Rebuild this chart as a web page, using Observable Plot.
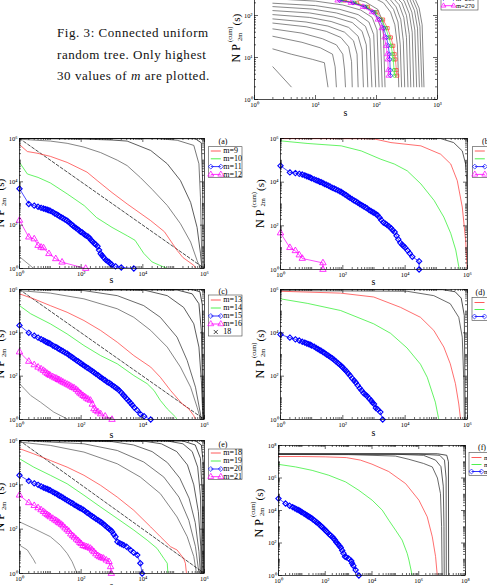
<!DOCTYPE html>
<html><head><meta charset="utf-8">
<script src="https://cdn.jsdelivr.net/npm/d3@7"></script>
<script src="https://cdn.jsdelivr.net/npm/@observablehq/plot@0.6"></script>
<style>
html,body{margin:0;padding:0;background:#fff;}
#page{position:relative;width:487px;height:585px;overflow:hidden;background:#fff;font-family:"Liberation Serif",serif;}
.panel{position:absolute;}
#caption{position:absolute;left:57px;top:22px;font-size:13px;letter-spacing:0.55px;line-height:21.7px;color:#111;white-space:nowrap;}
</style></head><body><div id="page"><div id="caption">Fig. 3: Connected uniform<br>random tree. Only highest<br>30 values of <i>m</i> are plotted.</div></div>
<script>
// ---------- DATA: top panel (connected uniform random tree) ----------
const TOP_gray = [
 [[2,6],[4,2]],
 [[2,16],[4,12],[9,9],[14,7.5],[16,2]],
 [[2,32],[6,23],[12,17],[19,12],[21,6],[22,2]],
 [[2,48],[6,38],[13,28],[22,20],[28,12],[30,5],[31,2]],
 [[2,66],[7,54],[15,42],[26,30],[35,18],[39,8],[40,2]],
 [[2,83],[7,70],[16,56],[30,40],[42,25],[48,12],[50,2]],
 [[2,105],[8,90],[18,72],[35,52],[50,32],[58,15],[61,2]],
 [[2,131],[8,115],[20,92],[40,68],[58,42],[68,20],[72,2]],
 [[2,163],[9,142],[22,115],[45,85],[66,55],[78,28],[84,2]],
 [[2,196],[10,172],[25,140],[50,105],[75,70],[90,35],[97,2]],
 [[2,251],[10,220],[28,178],[55,135],[85,90],[102,45],[110,2]],
 [[2,316],[11,275],[30,225],[60,170],[95,115],[115,55],[124,2]],
 [[2,400],[12,345],[32,280],[66,210],[105,140],[128,70],[138,2]],
 [[2,520],[15,460],[40,380],[80,290],[130,200],[170,120],[200,60],[220,20],[232,2]],
 [[2,580],[15,520],[45,430],[90,330],[145,230],[190,140],[225,70],[245,20],[258,2]],
 [[2,640],[16,580],[50,480],[100,370],[160,260],[210,160],[250,80],[275,25],[290,2]],
 [[2,700],[17,640],[55,530],[110,410],[175,290],[235,180],[280,90],[310,30],[328,2]],
 [[2,760],[18,700],[60,580],[120,450],[190,320],[260,200],[310,100],[345,35],[365,2]],
 [[2,820],[19,760],[65,630],[130,490],[210,350],[285,220],[345,110],[385,40],[408,2]],
 [[2,880],[20,820],[70,680],[140,530],[230,380],[315,240],[380,120],[425,45],[455,2]],
 [[2,940],[21,880],[75,730],[150,570],[250,410],[345,260],[420,130],[470,50],[505,2]],
 [[2,990],[22,940],[80,780],[160,610],[270,440],[375,280],[460,140],[515,55],[555,2]],
 [[2,1000],[25,990],[90,830],[180,650],[290,470],[405,300],[500,150],[560,60],[600,2]]
];
const TOP_m267 = [[2,470],[10,410],[20,330],[30,228],[48,200],[72,160],[100,120],[128,80],[152,50],[172,30],[188,19],[198,12],[204,9],[212,5],[218,3.7]];
const TOP_m268 = [[2,460],[10,400],[19,320],[27,228],[44,200],[68,160],[95,120],[120,80],[142,50],[160,30],[174,19],[183,12],[188,9],[194,5],[198,3.7]];
const TOP_m269 = [[2,450],[9,390],[18,310],[25,228],[41,200],[64,160],[89,120],[112,80],[131,50],[146,30],[156,19],[162,12],[165,9],[168,5],[170,3.7]];
const TOP_m270 = [[2,440],[9,380],[17,300],[23,228],[38,200],[60,160],[84,120],[105,80],[122,50],[135,30],[144,19],[150,12],[153,9],[156,5],[158,3.7]];

// ---------- DATA: panel (a) ----------
const A_m9 = [[1,5.2e5],[1.8,2.5e5],[3.7,2.1e5],[10,1.5e5],[35,7.9e4],[155,2.8e4],[330,1.15e4],[1000,3.2e3],[3100,955],[1.8e4,162],[5e4,50],[1.3e5,6.8],[2e5,3.2],[4.5e5,1.4],[5.2e5,1]];
const A_m10 = [[1,7.9e4],[1.8,2.3e4],[4,1.6e4],[10,8.9e3],[35,2.8e3],[126,794],[316,224],[1000,79],[3160,32],[5600,20],[1.07e4,5],[2e4,2],[4e4,1.3],[6.3e4,1]];
const A_m11 = [[1,4.8e3],[2,955],[3,794],[4,708],[5,631],[6,589],[7,550],[8,513],[9,490],[10,457],[12,398],[14,347],[16,316],[18,282],[20,257],[23,229],[26,209],[30,182],[34,166],[38,145],[43,126],[48,110],[54,95],[60,83],[68,74],[76,66],[85,58],[95,50],[105,48],[120,40],[135,35],[150,32],[170,29],[190,25],[210,20],[240,17],[270,14],[300,12.6],[340,10.7],[380,7.1],[430,4.8],[480,4],[540,3.2],[630,2.5],[710,2.2],[800,2],[900,1.66],[1000,1.5],[1300,1.26],[2000,1.12],[5100,1]];
const A_m12 = [[1,166],[2,28],[3,23],[4,11.5],[5,9.5],[6,8.9],[9,4.8],[15,2.8],[24,1.95],[140,1]];
const A_gray = [
 [[1,3.5],[2.9,1]],
 [[1,9.3e5],[10,7.6e5],[35,6e5],[123,4e5],[427,2.24e5],[1480,1e5],[3100,5.6e4],[8300,1.58e4],[2e4,4.5e3],[6.2e4,813],[1.66e5,117],[3.55e5,16.6],[5.75e5,2.34],[7.4e5,1]],
 [[1,1e6],[100,9.5e5],[1000,8.5e5],[3100,7.6e5],[1.8e4,2.8e5],[6.2e4,6.8e4],[1.66e5,1.15e4],[3.55e5,1.12e3],[5.75e5,79],[7.4e5,5],[8.3e5,1]],
 [[1,1e6],[3.2e4,9.8e5],[1.3e5,8.3e5],[4.5e5,4.8e5],[6.6e5,6.8e4],[7.4e5,1.95e3],[8.3e5,1]],
 [[1,1e6],[5e5,9.8e5],[7.9e5,6.3e5],[8.7e5,1e4],[9.1e5,1]]
];
const DIAG = [[1,1e6],[1e6,1]];

// ---------- DATA: panel (b) ----------
const B_red = [[1,9.9e5],[500,9.8e5],[1000,9.6e5],[3500,6.5e5],[3.2e4,4.6e5],[1.38e5,1.9e5],[2.9e5,6.8e4],[4.7e5,1.17e4],[6.8e5,724],[8.7e5,22],[9.8e5,1]];
const B_green = [[1,7.8e5],[7.6,5.9e5],[89,4.6e5],[390,2.7e5],[1660,1.12e5],[4470,6.8e4],[1.17e4,3.3e4],[3.2e4,8.3e3],[8.5e4,1.45e3],[1.74e5,251],[2.9e5,45],[4.2e5,7.8],[5.25e5,1.35],[5.5e5,1]];
const B_blue = [[1,5.6e4],[2,2.8e4],[3,2.6e4],[4,2.4e4],[5,2.24e4],[6,2.04e4],[7,1.86e4],[8,1.74e4],[9,1.62e4],[10,1.51e4],[12,1.35e4],[14,1.23e4],[16,1.15e4],[18,1.05e4],[20,1e4],[23,9.1e3],[26,8.3e3],[30,7.6e3],[35,6.9e3],[40,6.2e3],[46,5.5e3],[53,5.1e3],[60,4.7e3],[70,4.2e3],[80,3.8e3],[90,3.55e3],[100,3.16e3],[115,2.8e3],[130,2.5e3],[150,2.14e3],[170,1.9e3],[200,1.66e3],[230,1.45e3],[260,1.32e3],[300,1.15e3],[350,1e3],[400,890],[460,794],[530,708],[600,630],[700,525],[800,479],[900,427],[1000,398],[1150,347],[1300,309],[1500,240],[1700,186],[2000,141],[2300,126],[2600,112],[3000,95],[3500,79],[4000,63],[4600,52],[5300,35],[6000,24],[7000,16.6],[8000,13.5],[9000,11.7],[1e4,10],[1.2e4,7.4],[1.4e4,5.5],[1.7e4,3.8],[2.8e4,2.4],[2.8e4,1]];
const B_mag = [[1,47],[2,10],[3,7.2],[4,4.6],[5,3.2],[23,2],[23,1]];
const B_gray = [
 [[1,1e6],[1.38e5,9.9e5],[3.6e5,6.5e5],[6.8e5,2.7e5],[8.7e5,6.8e4],[9.8e5,5.9e3],[1e6,1]]
];

// ---------- DATA: panel (c) ----------
const C_m13 = [[1,6.3e5],[2.9,3.7e5],[10,1.8e5],[35,8.9e4],[123,3.7e4],[427,1.29e4],[1480,3.7e3],[5100,891],[1.8e4,263],[3.7e4,89],[7.9e4,22],[1.9e5,5.2],[3.1e5,3.1],[4.5e5,1.5],[5.1e5,1]];
const C_m14 = [[1,1.8e5],[2.3,7.6e4],[10,2.6e4],[35,8.9e3],[123,2.6e3],[427,891],[1480,372],[5100,107],[1.38e4,45],[2.3e4,22],[3.7e4,7.6],[6.2e4,3.1],[1.15e5,1.3],[1.29e5,1]];
const C_m15 = [[1,2.2e4],[2,1e4],[3,7.4e3],[4,6e3],[5,5.1e3],[6,4.5e3],[7,4e3],[8,3.6e3],[9,3.4e3],[10,3.1e3],[12,2.6e3],[14,2.3e3],[16,2.14e3],[18,1.86e3],[20,1.74e3],[23,1.55e3],[26,1.41e3],[30,1.23e3],[35,1.1e3],[40,955],[46,832],[53,724],[60,631],[70,537],[80,479],[90,427],[100,380],[115,331],[130,295],[150,257],[170,229],[200,195],[230,170],[260,151],[300,129],[350,112],[400,95],[460,83],[530,72],[600,65],[700,54],[800,49],[900,44],[1000,39],[1150,34],[1300,30],[1500,26],[1700,22],[2000,17.4],[2300,13.8],[2600,11.5],[3000,9.1],[3500,7.2],[4000,5.8],[4600,4.6],[5300,3.6],[6500,2.7],[8300,1.8],[1.1e4,1.41],[1.8e4,1]];
const C_m16 = [[1,1300],[2,479],[3,331],[4,257],[5,214],[6,182],[7,151],[8,132],[9,117],[10,107],[12,93],[14,83],[16,78],[18,69],[20,65],[23,58],[26,52],[30,47],[35,42],[40,38],[46,34],[53,30],[60,28],[70,24],[80,20],[90,16.6],[100,14.8],[115,12.6],[130,11.2],[150,9.5],[170,8.5],[200,7.6],[230,5],[260,3.1],[300,2.6],[350,2.24],[430,1.8],[600,1.41],[1000,1]];
const C_gray = [
 [[1,45],[2.3,12.9],[4.8,6.3],[12.9,2.2],[35,1.07]],
 [[1,8.9e5],[10,6.8e5],[123,3.7e5],[1480,1.29e5],[5100,5.2e4],[1.8e4,1.29e4],[6.2e4,2.2e3],[1.66e5,263],[3.55e5,31],[5.75e5,3.7],[7.4e5,1.07]],
 [[1,1e6],[123,8.9e5],[1480,5.2e5],[1.07e4,1.8e5],[3.7e4,5.2e4],[1.29e5,6.3e3],[2.75e5,525],[5.1e5,31],[7.4e5,1.8],[7.9e5,1]],
 [[1,1e6],[1.07e4,9.5e5],[6.2e4,5.2e5],[2.1e5,1.5e5],[4.5e5,2.6e4],[6.6e5,2.2e3],[7.9e5,63],[8.9e5,1]],
 [[1,1e6],[1.29e5,9.5e5],[4e5,6.3e5],[6.6e5,2.2e5],[7.9e5,1.26e4],[9.1e5,1]],
 [[1,1e6],[4e5,9.9e5],[7.1e5,7.9e5],[8.5e5,2e5],[9.3e5,1]]
];

// ---------- DATA: panel (d) ----------
const D_red = [[1,8.3e5],[85,6.8e5],[980,4.5e5],[7.1e3,1.5e5],[3.1e4,5.2e4],[8.3e4,1.29e4],[1.74e5,2.2e3],[2.8e5,372],[4.1e5,45],[5.25e5,5.2],[6e5,1]];
const D_green = [[1,3.7e5],[7.2,2.3e5],[85,1.07e5],[980,2.6e4],[3.4e3,9.5e3],[1.15e4,2e3],[3.1e4,355],[5.1e4,89],[9.3e4,6.3],[1.2e5,1]];
const D_blue = [[1,8.3e3],[2,6e3],[3,5e3],[4,4.4e3],[5,3.9e3],[6,3.55e3],[7,3.2e3],[8,3e3],[9,2.8e3],[10,2.6e3],[12,2.3e3],[14,2e3],[16,1.8e3],[18,1.6e3],[20,1.5e3],[23,1.3e3],[26,1.17e3],[30,1e3],[35,871],[40,759],[46,661],[53,562],[60,479],[70,398],[80,339],[90,295],[100,251],[115,204],[130,170],[150,132],[170,107],[200,79],[230,63],[260,51],[300,38],[350,28],[400,22],[460,16.6],[530,14],[600,12],[700,9.3],[800,7.6],[900,6],[1000,5.2],[1150,3.4],[1300,3],[1600,2.2],[1900,1]];
const D_gray = [
 [[1,8.9e5],[1.15e4,8.3e5],[8.3e4,5.2e5],[2.8e5,2.2e5],[5.25e5,5.2e4],[6.8e5,6.3e3],[7.6e5,63],[7.9e5,1]],
 [[1,1e6],[1.58e5,9.8e5],[4e5,7.9e5],[6.3e5,4e5],[7.9e5,6.3e4],[8.5e5,1]]
];

// ---------- DATA: panel (e) ----------
const E_m18 = [[1,4.3e5],[2.9,2.5e5],[10,1.26e5],[35,6.3e4],[123,2.7e4],[427,9.5e3],[1480,2.8e3],[5100,708],[1.8e4,126],[3.7e4,46],[7.9e4,16.2],[1.29e5,11.5],[2.1e5,4.8],[2.4e5,2.9],[2.6e5,1]];
const E_m19 = [[1,1.5e5],[2.9,6.3e4],[10,2.7e4],[35,1.12e4],[123,3.4e3],[427,1e3],[1480,302],[5100,91],[1.38e4,32],[2.9e4,13.5],[4.8e4,4.8],[6.2e4,2.9],[6.5e4,1]];
const E_m20 = [[1,2.7e4],[2,1.5e4],[3,1.17e4],[4,1e4],[5,8.5e3],[6,7.6e3],[7,6.9e3],[8,6.5e3],[9,6e3],[10,5.6e3],[12,4.8e3],[14,4.3e3],[16,3.9e3],[18,3.5e3],[20,3.2e3],[23,2.9e3],[26,2.6e3],[30,2.3e3],[35,2e3],[40,1.8e3],[46,1.6e3],[53,1.45e3],[60,1.26e3],[70,1.12e3],[80,1e3],[90,912],[100,851],[115,759],[130,676],[150,575],[170,513],[200,437],[230,380],[260,339],[300,295],[350,257],[400,229],[460,200],[530,170],[600,145],[700,120],[800,105],[900,91],[1000,79],[1150,58],[1300,45],[1500,27],[1800,23],[2100,21],[2400,19],[3000,16],[4000,11.5],[5000,8.9],[6600,6.8],[8300,2.9],[9500,1]];
const E_m21 = [[1,3.4e3],[2,1.55e3],[3,1.15e3],[4,912],[5,741],[6,617],[7,513],[8,447],[9,398],[10,355],[12,302],[14,257],[16,234],[18,204],[20,186],[23,162],[26,138],[30,112],[35,93],[40,79],[46,60],[53,50],[60,43],[70,35],[80,30],[90,25],[100,22],[115,18],[130,17],[150,15.8],[170,15],[200,13.5],[230,11.2],[260,9.5],[300,7.6],[350,6.3],[400,5.6],[460,5.1],[530,4.8],[650,4],[800,3.4],[900,2],[950,1]];
const E_gray = [
 [[1,214],[2.9,107],[10,46],[21,19],[35,8.1],[51,3.4],[74,1]],
 [[1,19],[1.8,11.5],[2.9,4.1],[3.3,2.9]],
 [[1,8.5e5],[10,6e5],[123,3e5],[1480,8.9e4],[8300,2.24e4],[3.7e4,4e3],[1.29e5,355],[2.75e5,46],[4.5e5,5.8],[5.5e5,1]],
 [[1,1e6],[123,7.1e5],[1480,3.55e5],[1.07e4,1.07e5],[4.8e4,2.24e4],[1.48e5,2.8e3],[3.1e5,251],[5.1e5,16.2],[6.6e5,1]],
 [[1,1e6],[1000,8.9e5],[5e3,6.3e5],[2e4,3.16e5],[6.3e4,1e5],[1.58e5,2e4],[3.16e5,2.5e3],[5e5,200],[6.6e5,10],[7.4e5,1]],
 [[1,1e6],[1e4,9.5e5],[4e4,7.1e5],[1.26e5,3.16e5],[2.8e5,7.9e4],[4.5e5,1e4],[6.3e5,631],[7.6e5,16],[7.9e5,1]],
 [[1,1e6],[6.3e4,9.5e5],[2e5,7.1e5],[4e5,3.16e5],[6e5,6.3e4],[7.4e5,3.16e3],[8.3e5,1]],
 [[1,1e6],[2e5,9.5e5],[5e5,6.3e5],[7.4e5,1.58e5],[8.5e5,3.16e3],[8.9e5,1]],
 [[1,1e6],[5e5,9.8e5],[7.9e5,6.3e5],[9.1e5,1e5],[9.3e5,1]]
];

// ---------- DATA: panel (f) ----------
const F_red = [[1,2.1e7],[10,2.1e7],[100,2e7],[800,1.8e7],[3.2e3,1.26e7],[1e4,7.1e6],[5.2e4,2.5e6],[2.75e5,4.5e5],[1.02e6,4.3e4],[2.3e6,4.1e3],[3.8e6,240],[5.25e6,14.5],[6.2e6,1]];
const F_green = [[1,6.9e6],[5.4,4.8e6],[27.5,2.95e6],[141,1.48e6],[741,5.75e5],[2.75e3,1.74e5],[1.02e4,4.3e4],[2.75e4,1.05e4],[5.25e4,2.5e3],[1.02e5,617],[1.95e5,151],[3.2e5,23],[3.8e5,8.9],[5.25e5,1]];
const F_blue = [[1,5.4e4],[2,2.7e4],[3,1.95e4],[4,1.62e4],[5,1.38e4],[6,1.2e4],[7,1.07e4],[8,9.8e3],[9,8.7e3],[10,7.9e3],[12,6.8e3],[14,5.9e3],[16,5.2e3],[18,4.6e3],[20,4.3e3],[23,3.7e3],[26,3.4e3],[30,2.8e3],[35,2.4e3],[40,2e3],[46,1.74e3],[53,1.48e3],[60,1.26e3],[70,1e3],[80,851],[90,724],[100,617],[115,501],[130,427],[150,339],[170,288],[200,240],[230,186],[260,151],[300,112],[350,87],[400,68],[460,52],[530,35],[600,23],[700,14.5],[800,13.2],[1000,11.2],[1300,7.9],[1400,5.6],[1600,4],[2000,2.2],[2750,1]];
const F_gray = [
 [[1,2.8e7],[1e3,2.75e7],[1e5,2.24e7],[3.8e5,1.41e7],[1.58e6,7.9e6],[3.8e6,4.8e6],[6.3e6,1e6],[8.5e6,1.1e5],[9.5e6,1e3],[1e7,1]],
 [[1,2.95e7],[1e5,2.9e7],[1.58e6,2.5e7],[5.25e6,1.26e7],[8.9e6,5e6],[1.12e7,3.16e5],[1.2e7,1e3],[1.23e7,1]],
 [[1,3e7],[1e6,2.95e7],[7.9e6,2.5e7],[1.26e7,1.26e7],[1.48e7,1e6],[1.51e7,1]],
 [[1,3.1e7],[6.3e6,3.1e7],[1.58e7,2.5e7],[1.86e7,1e7],[1.9e7,1]]
];

// ---------- tick labels ----------
const TICKS_3 = [1,10,100,1000];
const TICKS_6 = [1,1e2,1e4,1e6];
const TICKS_8 = [1,1e2,1e4,1e6,1e8];

// ---------- drawing ----------
const SERIF = "'Liberation Serif', 'Times New Roman', serif";
const SUP = "⁰¹²³⁴⁵⁶⁷⁸⁹";
const sup = d => "10" + SUP[Math.round(Math.log10(d))];
const RED = "#ff3030", GREEN = "#22ee22", BLUE = "#0000ff", MAG = "#ff00ff";
const GRAYS = ["#666","#555","#333","#555","#222","#444","#333","#222","#111"];
const page = document.getElementById("page");

function allTicks(max){const t=[];for(let p=1;p<max;p*=10)for(let j=1;j<10;j++)t.push(j*p);t.push(max);return t;}

function drawPanel(c){
  const L=30,R=4,T=4,B=16;
  const fw=c.x1-c.x0, fh=c.y1-c.y0;
  const minX=allTicks(c.xmax).filter(v=>!c.xmaj.includes(v));
  const minY=allTicks(c.ymax).filter(v=>!c.ymaj.includes(v));
  const tk={stroke:"#000",strokeWidth:0.6};
  const xy={x:d=>d[0],y:d=>d[1]};
  const marks=[];
  (c.gray||[]).forEach((g,i)=>marks.push(Plot.line(g,{...xy,stroke:(c.grayColors||GRAYS)[i%9],strokeWidth:c.gw||0.8,clip:true})));
  if(c.dashed) marks.push(Plot.line(DIAG,{...xy,stroke:"#000",strokeWidth:0.7,strokeDasharray:"3,2",clip:true}));
  for(const s of c.series){
    marks.push(Plot.line(s.data,{...xy,stroke:s.color,strokeWidth:s.sw||0.7,clip:true}));
    if(s.symbol) marks.push(Plot.dot(s.data,{...xy,symbol:s.symbol,r:s.r||2.4,stroke:s.color,fill:"none",strokeWidth:s.mw||1.1}));
  }
  marks.push(
    Plot.ruleX(c.xmaj,{x:d=>d,insetTop:fh-4,...tk}),
    Plot.ruleX(c.xmaj,{x:d=>d,insetBottom:fh-4,...tk}),
    Plot.ruleX(minX,{x:d=>d,insetTop:fh-2,...tk}),
    Plot.ruleX(minX,{x:d=>d,insetBottom:fh-2,...tk}),
    Plot.ruleY(c.ymaj,{y:d=>d,insetRight:fw-4,...tk}),
    Plot.ruleY(c.ymaj,{y:d=>d,insetLeft:fw-4,...tk}),
    Plot.ruleY(minY,{y:d=>d,insetRight:fw-2,...tk}),
    Plot.ruleY(minY,{y:d=>d,insetLeft:fw-2,...tk}),
    Plot.axisX(c.xmaj,{tickSize:0,tickPadding:2.5,tickFormat:sup,label:null,fontSize:6.5}),
    Plot.axisY(c.ymaj,{tickSize:0,tickPadding:2,tickFormat:sup,label:null,fontSize:6.5}),
    Plot.frame({stroke:"#000",strokeWidth:0.7})
  );
  const svg=Plot.plot({width:fw+L+R,height:fh+T+B,marginLeft:L,marginRight:R,marginTop:T,marginBottom:B,
    x:{type:"log",domain:[1,c.xmax]},y:{type:"log",domain:[1,c.ymax]},
    style:{fontFamily:SERIF,fontSize:"6.5px",background:"none",color:"#000",overflow:"visible"},marks});
  const div=document.createElement("div");div.className="panel";
  div.style.left=(c.x0-L)+"px";div.style.top=(c.y0-T)+"px";
  div.appendChild(svg);page.appendChild(div);
}

drawPanel({x0:254,x1:437,y0:-27,y1:99,xmax:1e3,ymax:1e3,xmaj:TICKS_3,ymaj:TICKS_3,gray:TOP_gray,grayColors:Array(9).fill("#555"),gw:0.7,
  series:[{data:TOP_m267,color:RED,symbol:"square",r:1.8,sw:0.6,mw:0.7},{data:TOP_m268,color:GREEN,symbol:"circle",r:1.8,sw:0.6,mw:0.7},
          {data:TOP_m269,color:BLUE,symbol:"diamond2",r:2,sw:0.6,mw:0.7},{data:TOP_m270,color:MAG,symbol:"triangle",r:2,sw:0.6,mw:0.7}]});
drawPanel({x0:19,x1:204,y0:138,y1:268,xmax:1e6,ymax:1e6,xmaj:TICKS_6,ymaj:TICKS_6,gray:A_gray,grayColors:["#777","#666","#333","#555","#222"],dashed:true,
  series:[{data:A_m9,color:RED},{data:A_m10,color:GREEN},{data:A_m11,color:BLUE,symbol:"diamond2"},{data:A_m12,color:MAG,symbol:"triangle",mw:0.8}]});
drawPanel({x0:280,x1:467,y0:138,y1:269,xmax:1e6,ymax:1e6,xmaj:TICKS_6,ymaj:TICKS_6,gray:B_gray,grayColors:["#333"],
  series:[{data:B_red,color:RED},{data:B_green,color:GREEN},{data:B_blue,color:BLUE,symbol:"diamond2"},{data:B_mag,color:MAG,symbol:"triangle",mw:0.8}]});
drawPanel({x0:19,x1:204,y0:289,y1:419,xmax:1e6,ymax:1e6,xmaj:TICKS_6,ymaj:TICKS_6,gray:C_gray,grayColors:["#777","#666","#444","#333","#222","#111"],dashed:true,
  series:[{data:C_m13,color:RED},{data:C_m14,color:GREEN},{data:C_m15,color:BLUE,symbol:"diamond2"},{data:C_m16,color:MAG,symbol:"triangle",mw:0.8}]});
drawPanel({x0:280,x1:467,y0:289,y1:419,xmax:1e6,ymax:1e6,xmaj:TICKS_6,ymaj:TICKS_6,gray:D_gray,grayColors:["#444","#222"],
  series:[{data:D_red,color:RED},{data:D_green,color:GREEN},{data:D_blue,color:BLUE,symbol:"diamond2"}]});
drawPanel({x0:19,x1:204,y0:440,y1:573,xmax:1e6,ymax:1e6,xmaj:TICKS_6,ymaj:TICKS_6,gray:E_gray,grayColors:["#777","#777","#666","#555","#444","#333","#333","#222","#111"],dashed:true,
  series:[{data:E_m18,color:RED},{data:E_m19,color:GREEN},{data:E_m20,color:BLUE,symbol:"diamond2"},{data:E_m21,color:MAG,symbol:"triangle",mw:0.8}]});
drawPanel({x0:278,x1:465,y0:445,y1:575,xmax:1e8,ymax:1e8,xmaj:TICKS_8,ymaj:TICKS_8,gray:F_gray,grayColors:["#444","#333","#333","#222"],
  series:[{data:F_red,color:RED},{data:F_green,color:GREEN},{data:F_blue,color:BLUE,symbol:"diamond2"}]});

// ---------- overlay: legends, titles, labels ----------
const ov=d3.select(page).append("svg").attr("width",487).attr("height",585)
  .style("position","absolute").style("left","0px").style("top","0px").style("font-family",SERIF);
const SYM={square:d3.symbolSquare,circle:d3.symbolCircle,diamond2:d3.symbolDiamond2,triangle:d3.symbolTriangle,times:d3.symbolTimes};
function legend(x,y,w,h,entries,fs){
  ov.append("rect").attr("x",x).attr("y",y).attr("width",w).attr("height",h).attr("fill","#fff").attr("stroke","#444").attr("stroke-width",0.6);
  for(const e of entries){
    if(e.line) ov.append("line").attr("x1",x+2.5).attr("x2",x+12.5).attr("y1",e.y).attr("y2",e.y).attr("stroke",e.color).attr("stroke-width",0.8);
    if(e.symbol){
      const r=e.r||2.2;
      for(const px of (e.line?[x+2.5,x+12.5]:[x+7.5]))
        ov.append("path").attr("d",d3.symbol(SYM[e.symbol],Math.PI*r*r)()).attr("transform",`translate(${px},${e.y})`)
          .attr("fill","none").attr("stroke",e.color).attr("stroke-width",0.7);
    }
    ov.append("text").attr("x",x+15).attr("y",e.y+2.3).style("font-size",(fs||8)+"px").attr("fill","#000").text(e.label);
  }
}
function ent(labels,ys,styles){return labels.map((l,i)=>({label:l,y:ys[i],...styles[i]}));}
const ST4=[{line:true,color:RED},{line:true,color:GREEN},{line:true,color:BLUE,symbol:"diamond2"},{line:true,color:MAG,symbol:"triangle"}];
legend(441,-21,37,31,ent(["m=267","m=268","m=269","m=270"],[-16.2,-8.9,-1.6,5.7],
  [{line:true,color:RED,symbol:"square",r:1.6},{line:true,color:GREEN,symbol:"circle",r:1.6},{line:true,color:BLUE,symbol:"diamond2",r:1.8},{line:true,color:MAG,symbol:"triangle",r:1.8}]),6.5);
legend(208.3,146.7,33.7,30.6,ent(["m=9","m=10","m=11","m=12"],[151,158.8,166.6,174.4],ST4));
legend(472.3,146.7,40,30.6,ent(["m=22","m=23","m=24","m=25"],[151,158.8,166.6,174.4],ST4));
legend(208.3,295,33.7,41,ent(["m=13","m=14","m=15","m=16","18"],[300,308,316,324,332],[...ST4,{line:false,color:"#000",symbol:"times",r:2}]));
legend(472,297.5,40,23,ent(["m=26","m=27","m=28"],[302.5,309.5,316.5],ST4),6.5);
legend(208.3,449,33.7,30.5,ent(["m=18","m=19","m=20","m=21"],[453,461,469,476.7],ST4));
legend(469,452.5,40,23,ent(["m=29","m=30","m=31"],[457.5,464.5,471.5],ST4),6.5);

function txt(x,y,s,size,anchor){ov.append("text").attr("x",x).attr("y",y).attr("text-anchor",anchor||"middle").style("font-size",size+"px").attr("fill","#000").text(s);}
txt(223,143.8,"(a)",8); txt(482,143.8,"(b)",8,"start");
txt(223,294,"(c)",8);   txt(475.5,294.5,"(d)",8,"start");
txt(223,447,"(e)",8);   txt(478,449.5,"(f)",8,"start");
txt(345.5,116,"s",10); txt(111.5,283,"s",10); txt(373.5,284.5,"s",10);
txt(111.5,437.5,"s",10); txt(373.5,436,"s",10); txt(111.5,589,"s",10);

function ytitle(cx,cy){
  const g=ov.append("g").attr("transform",`translate(${cx},${cy}) rotate(-90)`).attr("fill","#000");
  g.append("text").attr("x",-24.5).attr("y",0).style("font-size","12px").text("N P");
  g.append("text").attr("x",-4).attr("y",-8).style("font-size","6.5px").text("(cum)");
  g.append("text").attr("x",-3).attr("y",1.5).style("font-size","6.5px").text("2m");
  g.append("text").attr("x",12.5).attr("y",0).style("font-size","11px").text("(s)");
}
ytitle(240,38); ytitle(4,203); ytitle(263.5,203.5); ytitle(4,354); ytitle(263.5,354); ytitle(4,507); ytitle(262.5,513);
</script></body></html>
